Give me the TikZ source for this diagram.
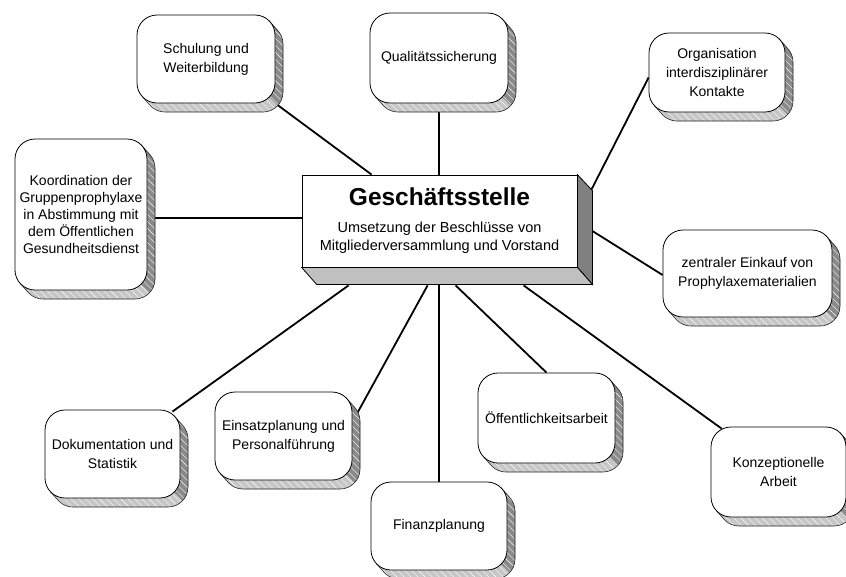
\documentclass[tikz,border=0pt]{standalone}
\usepackage{fontspec}
\setmainfont{Liberation Sans}
\usetikzlibrary{calc,backgrounds,patterns.meta}
\definecolor{shdark}{HTML}{8A8A8A}
\definecolor{shlight}{HTML}{C6C6C6}
\definecolor{cdark}{HTML}{808080}
\definecolor{clight}{HTML}{C0C0C0}
\tikzset{
  frontbox/.style={draw=black, line width=0.8pt, fill=white, rounded corners=20pt,
    inner sep=0pt, align=center, font=\fontsize{14}{19}\selectfont},
  shedge/.style={draw=black!85, line width=0.6pt},
  hatch/.style={pattern={Lines[angle=-45,distance=5pt,line width=0.4pt]}, pattern color=white, fill opacity=0.22},
  link/.style={line width=1.8pt, draw=black},
  facestyle/.style={draw=black, line width=0.8pt},
}
\newcommand\Rr{20}
\newcommand\shx{8}
\newcommand\shy{9}
\newcommand\mkbox[7][]{%
  \pgfmathsetmacro\bxa{#3-#5/2}\pgfmathsetmacro\bxb{#3+#5/2}%
  \pgfmathsetmacro\bya{#4-#6/2}\pgfmathsetmacro\byb{#4+#6/2}%
  \pgfmathsetmacro\bk{0.2929*\Rr}%
  \coordinate (#2-tr) at (\bxb-\bk,\bya+\bk);
  \coordinate (#2-bl) at (\bxa+\bk,\byb-\bk);
  \fill[shlight,rounded corners=\Rr pt] (\bxa+\shx,\bya+\shy) rectangle (\bxb+\shx,\byb+\shy);
  \fill[shlight] (#2-tr) -- ++(\shx,\shy) -- ($(#2-bl)+(\shx,\shy)$) -- (#2-bl) -- cycle;
  \begin{scope}
    \clip (\bxb-300,\byb-300) -- (\bxb+60,\byb+60) -- (\bxb+300,\byb-300) -- cycle;
    \fill[shdark,rounded corners=\Rr pt] (\bxa+\shx,\bya+\shy) rectangle (\bxb+\shx,\byb+\shy);
    \fill[shdark] (#2-tr) -- ++(\shx,\shy) -- ($(#2-bl)+(\shx,\shy)$) -- (#2-bl) -- cycle;
  \end{scope}
  \fill[hatch,rounded corners=\Rr pt] (\bxa+\shx,\bya+\shy) rectangle (\bxb+\shx,\byb+\shy);
  \draw[shedge] (#2-tr) -- ++(\shx,\shy) arc[start angle=-45,end angle=0,radius=\Rr]
     -- (\bxb+\shx,\byb+\shy-\Rr) arc[start angle=0,end angle=90,radius=\Rr]
     -- (\bxa+\shx+\Rr,\byb+\shy) arc[start angle=90,end angle=135,radius=\Rr] -- (#2-bl);
  \node[frontbox,minimum width=#5pt,minimum height=#6pt,#1] (#2) at (#3,#4) {#7};
}
\begin{document}
\begin{tikzpicture}[x=1pt,y=-1pt]
\useasboundingbox (0,0) rectangle (846,576);

% central box
\node[draw=black,line width=0.8pt,fill=white,minimum width=275pt,minimum height=92pt,
  inner sep=0pt,align=center,font=\fontsize{14.5}{18}\selectfont] (C) at (439.5,221)
  {{\fontsize{24.5}{27}\selectfont\bfseries Geschäftsstelle}\\[9pt]Umsetzung der Beschlüsse von\\Mitgliederversammlung und Vorstand};
\fill[cdark,facestyle] (C.north east) -- ($(C.north east)+(15,16)$) -- ($(C.south east)+(15,17)$) -- (C.south east) -- cycle;
\fill[clight,facestyle] (C.south west) -- (C.south east) -- ($(C.south east)+(15,17)$) -- ($(C.south west)+(15,17)$) -- cycle;

% outer boxes
\mkbox{S}{206}{59}{138}{88}{Schulung und\\Weiterbildung}
\mkbox{Q}{439}{58}{138}{90}{Qualitätssicherung}
\mkbox{O}{717}{72.5}{136}{79}{Organisation\\interdisziplinärer\\Kontakte}
\mkbox[font=\fontsize{14}{17}\selectfont]{K}{81}{214.5}{132}{151}{Koordination der\\Gruppenprophylaxe\\in Abstimmung mit\\dem Öffentlichen\\Gesundheitsdienst}
\mkbox{Z}{747.5}{273.5}{169}{87}{zentraler Einkauf von\\Prophylaxematerialien}
\mkbox{D}{112.5}{454}{135}{88}{Dokumentation und\\Statistik}
\mkbox{E}{283.5}{436}{137}{88}{Einsatzplanung und\\Personalführung}
\mkbox{F}{439}{526}{136}{88}{Finanzplanung}
\mkbox{P}{546.5}{418}{137}{90}{Öffentlichkeitsarbeit}
\mkbox{A}{778.5}{472}{135}{90}{Konzeptionelle\\Arbeit}

% connectors
\begin{scope}[on background layer]
\fill[white] (0,0) rectangle (846,576);
\draw[link] (S.south east) -- ($(C.north west)+(70,0)$);
\draw[link] (Q.south) -- (Q.south |- C.north);
\draw[link] ($(O.west)+(0,5)$) -- ($(C.north east)+(13,17)$);
\draw[link] ($(K.east)+(0,3.5)$) -- ($(C.west)+(0,-3)$);
\draw[link] ($(Z.west)+(0,1.5)$) -- ($(C.east)+(15,10)$);
\draw[link] ($(D.north east)+(-8,2)$) -- ($(C.south west)+(47,18)$);
\draw[link] ($(E.east)+(0,-14)$) -- ($(C.south west)+(126,18)$);
\draw[link] (F.north) -- (F.north |- C.south);
\draw[link] (P.north) -- ($(C.south west)+(154,18)$);
\draw[link] ($(A.north west)+(11,2)$) -- ($(C.south west)+(222,18)$);
\end{scope}
\end{tikzpicture}
\end{document}
